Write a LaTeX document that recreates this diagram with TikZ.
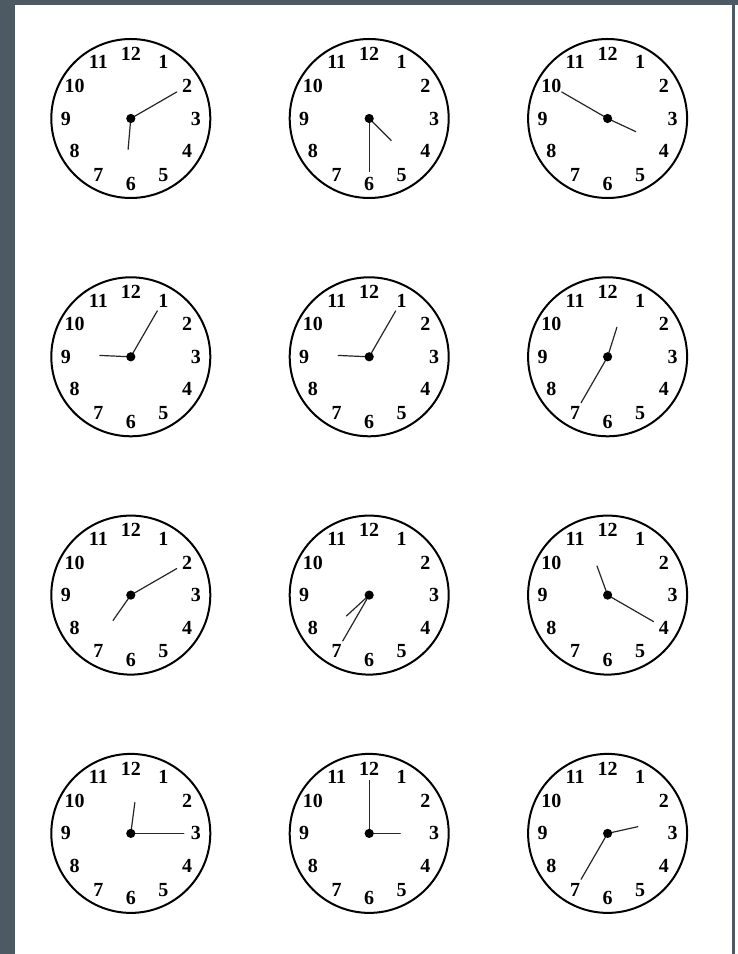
\documentclass[tikz,border=0pt]{standalone}
\usepackage{fontspec}
\setmainfont{Liberation Serif}
\definecolor{frame}{RGB}{77,89,99}
\begin{document}
\begin{tikzpicture}[x=1pt,y=1pt]
\tikzstyle{face}=[draw,line width=2pt]
\tikzstyle{hand}=[draw,line width=1.2pt,black!85,line cap=round]
\tikzstyle{numeral}=[inner sep=0pt,font=\fontsize{20}{20}\selectfont\bfseries]
\useasboundingbox(0,0)rectangle(738,954);
\fill[white](0,0)rectangle(738,954);
\fill[frame](0,0)rectangle(15,954);
\fill[frame](0,949)rectangle(738,954);
\path[draw,frame,line width=2.5pt](733.5,0)--(733.5,954);
\foreach \h/\m [count=\i from 0] in {6/10,4/30,3/50,9/5,9/5,12/35,7/10,7/35,11/20,12/15,3/0,2/35}{
  \pgfmathtruncatemacro\col{mod(\i,3)}
  \pgfmathtruncatemacro\row{div(\i,3)}
  \coordinate(c\i)at(130.8+238.4*\col,835.5-238.3*\row);
  \path[face](c\i)circle(79.5);
  \foreach \n in {1,...,12}
    \node[numeral](n\i-\n)at([shift={(90-30*\n:65)}]c\i){\n};
  \path[hand](c\i)--++(90-6*\m:53);
  \path[hand](c\i)--++(90-30*\h-0.5*\m:31);
  \fill(c\i)circle(4.6);
}
\end{tikzpicture}
\end{document}
